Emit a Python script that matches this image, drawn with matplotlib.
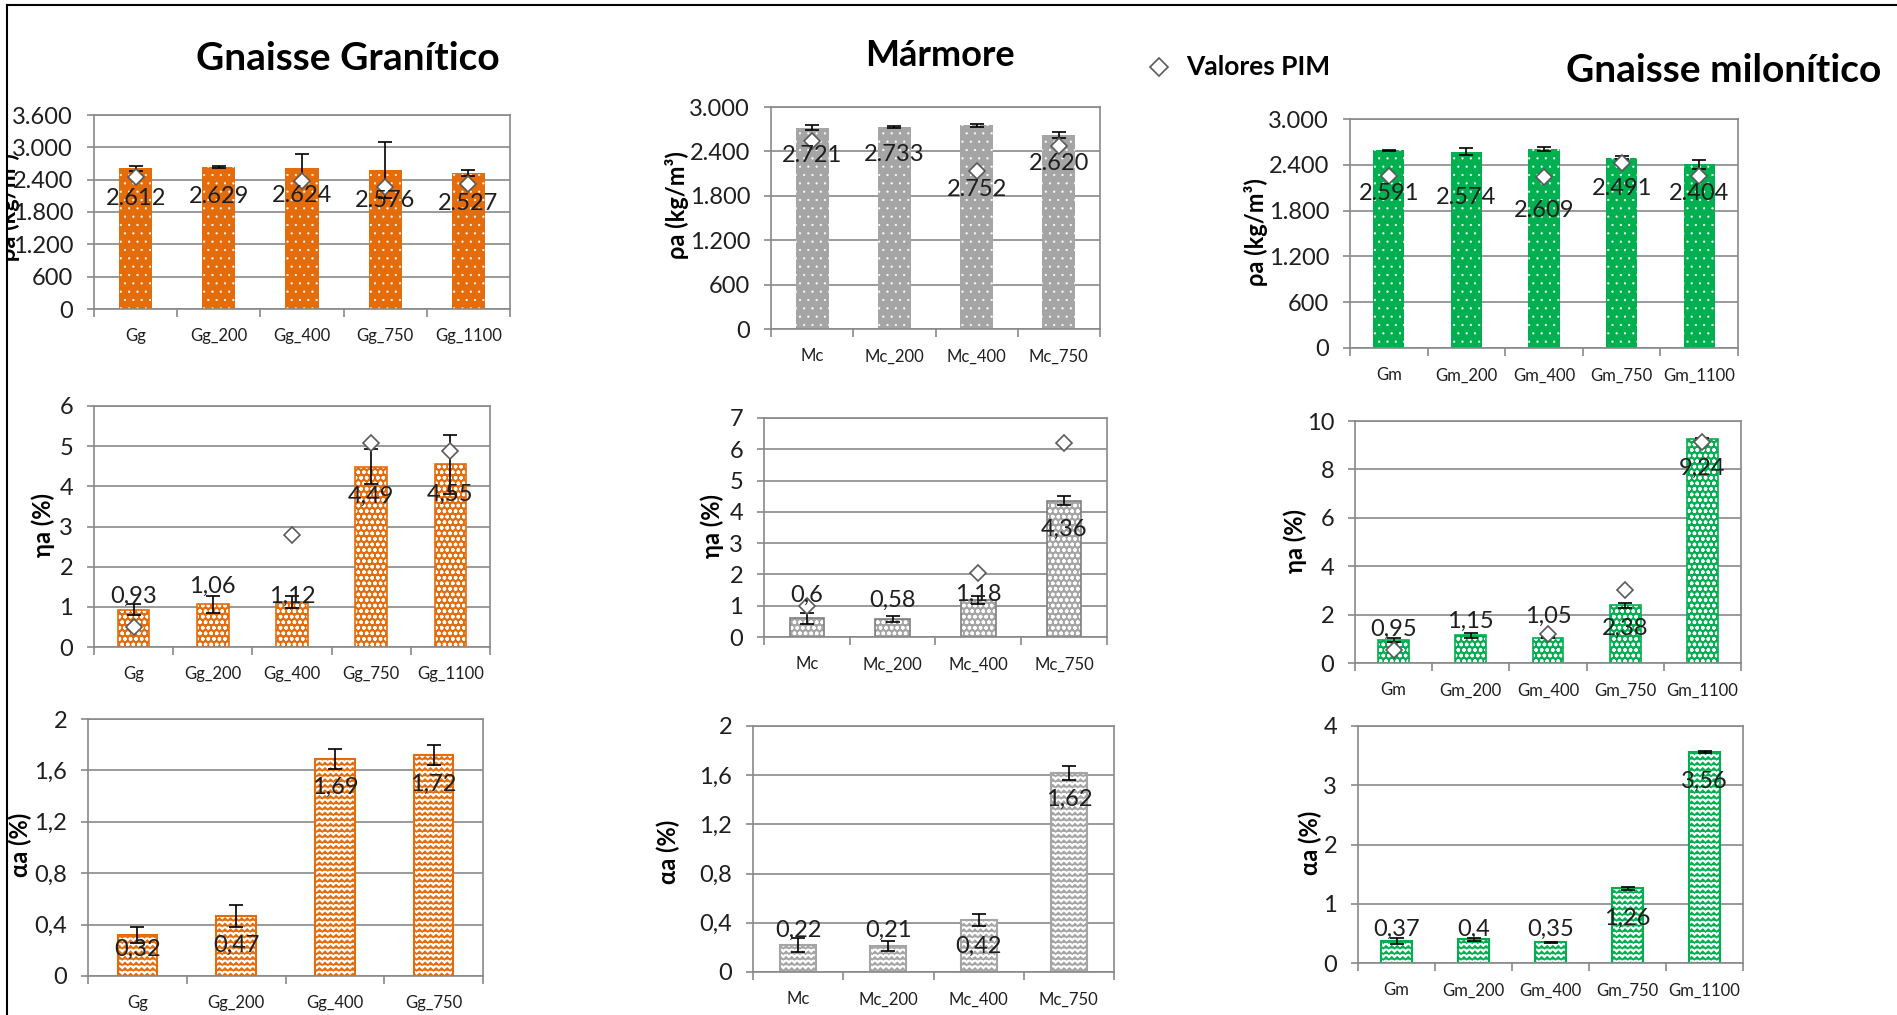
import warnings
warnings.filterwarnings("ignore")

import numpy as np
import matplotlib
matplotlib.use("Agg")
import matplotlib.pyplot as plt
import matplotlib.hatch as mhatch
from matplotlib.path import Path
from matplotlib.lines import Line2D
from matplotlib.ticker import FuncFormatter
from matplotlib.transforms import Bbox, TransformedBbox

plt.rcParams['font.family'] = ['Lato', 'DejaVu Sans']
plt.rcParams['hatch.linewidth'] = 1.0


# ---- custom zigzag hatch ('z') -------------------------------------------
class ZigZagHatch(mhatch.HatchPatternBase):
    def __init__(self, hatch, density):
        self.num_rows = hatch.count('z') * density
        self.num_points = 2 * self.num_rows + 1
        self.num_vertices = self.num_rows * self.num_points

    def set_vertices_and_codes(self, vertices, codes):
        n, m = self.num_rows, self.num_points
        xs = np.linspace(0.0, 1.0, m)
        amp = 0.24 / n
        sign = np.where(np.arange(m) % 2 == 0, -1.0, 1.0)
        for i in range(n):
            sl = slice(i * m, (i + 1) * m)
            vertices[sl, 0] = xs
            vertices[sl, 1] = (i + 0.5) / n + amp * sign
            codes[sl] = Path.LINETO
            codes[i * m] = Path.MOVETO


mhatch._hatch_types.append(ZigZagHatch)

# ---- data ------------------------------------------------------------------
gg_cats = ["Gg", "Gg_200", "Gg_400", "Gg_750", "Gg_1100"]
mc_cats = ["Mc", "Mc_200", "Mc_400", "Mc_750"]
gm_cats = ["Gm", "Gm_200", "Gm_400", "Gm_750", "Gm_1100"]
gg_alpha_cats = ["Gg", "Gg_200", "Gg_400", "Gg_750"]

# apparent density (kg/m3)
gg_rho = [2612, 2629, 2624, 2576, 2527]
gg_rho_err = [45, 20, 246, 516, 52]
gg_rho_pim = [2443, np.nan, 2381, 2270, 2313]

mc_rho = [2721, 2733, 2752, 2620]
mc_rho_err = [30, 15, 22, 40]
mc_rho_pim = [2535, np.nan, 2129, 2476]

gm_rho = [2591, 2574, 2609, 2491, 2404]
gm_rho_err = [5, 50, 25, 20, 60]
gm_rho_pim = [2259, np.nan, 2237, 2429, 2259]

# open porosity (%)
gg_eta = [0.93, 1.06, 1.12, 4.49, 4.55]
gg_eta_err = [0.14, 0.22, 0.16, 0.44, 0.74]
gg_eta_pim = [0.51, np.nan, 2.79, 5.07, 4.88]

mc_eta = [0.6, 0.58, 1.18, 4.36]
mc_eta_err = [0.17, 0.10, 0.12, 0.15]
mc_eta_pim = [0.99, np.nan, 2.03, 6.2]

gm_eta = [0.95, 1.15, 1.05, 2.38, 9.24]
gm_eta_err = [0.10, 0.10, 0.02, 0.12, 0.05]
gm_eta_pim = [0.55, np.nan, 1.21, 3.0, 9.12]

# water absorption (%)
gg_alpha = [0.32, 0.47, 1.69, 1.72]
gg_alpha_err = [0.06, 0.085, 0.08, 0.08]

mc_alpha = [0.22, 0.21, 0.42, 1.62]
mc_alpha_err = [0.06, 0.04, 0.05, 0.055]

gm_alpha = [0.37, 0.4, 0.35, 1.26, 3.56]
gm_alpha_err = [0.05, 0.03, 0.01, 0.03, 0.01]

# ---- layout ------------------------------------------------------------------
W, H = 1897, 1015
ORANGE = "#E46C0A"
GRAY = "#A5A5A5"
GREEN = "#00B050"
AXIS_GRAY = "#898989"
TEXT = "#1E1E1E"

fig = plt.figure(figsize=(W / 100, H / 100), dpi=100)
fig.patch.set_facecolor("white")


def fx(px):
    return px / W


def fy(py):
    return 1 - py / H


def fmt_rho(v):
    return f"{int(round(v)):,}".replace(",", ".")


def fmt_dec(v):
    return f"{v:g}".replace(".", ",")


def hatched_bars(ax, x, vals, hatch_lw, **kw):
    with plt.rc_context({"hatch.linewidth": hatch_lw}):
        bars = ax.bar(x, vals, width=0.4, **kw)
    for b in bars:
        if hasattr(b, "set_hatch_linewidth"):
            b.set_hatch_linewidth(hatch_lw)
    return bars


panels = [
    dict(rect=(94, 115, 510, 309), cats=gg_cats, vals=gg_rho, err=gg_rho_err, pim=gg_rho_pim,
         kind="rho", color=ORANGE, ymax=3600, step=600,
         ly=[2053, 2096, 2115, 2022, 1960], ylab=(8, 207)),
    dict(rect=(771, 107, 1100, 329), cats=mc_cats, vals=mc_rho, err=mc_rho_err, pim=mc_rho_pim,
         kind="rho", color=GRAY, ymax=3000, step=600,
         ly=[2345, 2354, 1881, 2242], ylab=(677, 205)),
    dict(rect=(1350, 119, 1738, 348), cats=gm_cats, vals=gm_rho, err=gm_rho_err, pim=gm_rho_pim,
         kind="rho", color=GREEN, ymax=3000, step=600,
         ly=[2019, 1976, 1801, 2093, 2028], ylab=(1256, 232)),
    dict(rect=(94, 406, 490, 647), cats=gg_cats, vals=gg_eta, err=gg_eta_err, pim=gg_eta_pim,
         kind="eta", color=ORANGE, ymax=6, step=1,
         ly=[1.26, 1.52, 1.26, 3.74, 3.80], ylab=(43, 525)),
    dict(rect=(764, 418, 1107, 637), cats=mc_cats, vals=mc_eta, err=mc_eta_err, pim=mc_eta_pim,
         kind="eta", color=GRAY, ymax=7, step=1,
         ly=[1.34, 1.18, 1.37, 3.44], ylab=(712, 526)),
    dict(rect=(1355, 421, 1741, 663), cats=gm_cats, vals=gm_eta, err=gm_eta_err, pim=gm_eta_pim,
         kind="eta", color=GREEN, ymax=10, step=2,
         ly=[1.38, 1.72, 1.93, 1.42, 8.04], ylab=(1295, 541)),
    dict(rect=(88, 719, 483, 976), cats=gg_alpha_cats, vals=gg_alpha, err=gg_alpha_err, pim=None,
         kind="alpha", color=ORANGE, ymax=2, step=0.4,
         ly=[0.21, 0.24, 1.47, 1.49], ylab=(20, 845)),
    dict(rect=(753, 726, 1114, 972), cats=mc_cats, vals=mc_alpha, err=mc_alpha_err, pim=None,
         kind="alpha", color=GRAY, ymax=2, step=0.4,
         ly=[0.34, 0.34, 0.21, 1.40], ylab=(668, 852)),
    dict(rect=(1358, 726, 1743, 963), cats=gm_cats, vals=gm_alpha, err=gm_alpha_err, pim=None,
         kind="alpha", color=GREEN, ymax=4, step=1,
         ly=[0.56, 0.56, 0.56, 0.76, 3.07], ylab=(1310, 843)),
]

ylabels = {"rho": "ρa (kg/m³)", "eta": "ηa (%)", "alpha": "αa (%)"}

for i, p in enumerate(panels):
    x0, y0, x1, y1 = p["rect"]
    ax = fig.add_axes([fx(x0), fy(y1), (x1 - x0) / W, (y1 - y0) / H])
    n = len(p["cats"])
    x = np.arange(n)
    col = p["color"]

    if p["kind"] == "rho":
        hatched_bars(ax, x, p["vals"], 0.35, color=col, edgecolor="white",
                     linewidth=0, hatch="..", zorder=2)
    elif p["kind"] == "eta":
        hatched_bars(ax, x, p["vals"], 1.0, color=col, edgecolor="white",
                     linewidth=0, hatch="ooo", zorder=2)
        edge = "#7F7F7F" if col == GRAY else col
        ax.bar(x, p["vals"], width=0.4, fill=False, edgecolor=edge,
               linewidth=1.2, zorder=2)
    else:
        hatched_bars(ax, x, p["vals"], 1.2, color="white", edgecolor=col,
                     linewidth=1.5, hatch="zzz", zorder=2)

    ax.errorbar(x, p["vals"], yerr=p["err"], fmt="none", ecolor="black",
                elinewidth=1.2, capsize=5, capthick=1.2, zorder=3)

    if p["pim"] is not None:
        ax.plot(x, p["pim"], linestyle="none", marker="D", markersize=8,
                markerfacecolor="white", markeredgecolor="#5A5A5A",
                markeredgewidth=1.2, zorder=4)

    fmt = fmt_rho if p["kind"] == "rho" else fmt_dec
    for xi, v, ly in zip(x, p["vals"], p["ly"]):
        ax.text(xi, ly, fmt(v), ha="center", va="center", fontsize=17,
                color=TEXT, zorder=5)

    ax.set_xlim(-0.5, n - 0.5)
    ax.set_ylim(0, p["ymax"])
    ax.set_yticks(np.arange(0, p["ymax"] + p["step"] / 2, p["step"]))
    ax.yaxis.set_major_formatter(FuncFormatter(
        (lambda v, pos: fmt_rho(v)) if p["kind"] == "rho" else (lambda v, pos: fmt_dec(round(v, 6)))))
    ax.set_xticks(x)
    ax.set_xticklabels(p["cats"])
    ax.set_xticks(np.arange(-0.5, n, 1.0), minor=True)

    ax.grid(axis="y", color=AXIS_GRAY, linewidth=1.2, zorder=0)
    ax.set_axisbelow(True)
    for s in ax.spines.values():
        s.set_color(AXIS_GRAY)
        s.set_linewidth(1.2)

    ax.tick_params(axis="y", which="major", direction="out", length=5,
                   color=AXIS_GRAY, width=1.2, labelsize=17, labelcolor=TEXT, pad=10)
    ax.tick_params(axis="x", which="major", length=0, labelsize=12,
                   labelcolor=TEXT, pad=14)
    ax.tick_params(axis="x", which="minor", direction="out", length=6,
                   color=AXIS_GRAY, width=1.2)

    lx, lyy = p["ylab"]
    t = fig.text(fx(lx), fy(lyy), ylabels[p["kind"]], rotation=90, ha="center",
                 va="center", fontsize=17, fontweight="bold", color="black")
    if i == 0:
        t.set_clip_box(TransformedBbox(Bbox.from_extents(fx(8), 0, 1, 1), fig.transFigure))
        t.set_clip_on(True)
        t.set_zorder(-1)

# ---- titles and legend ----------------------------------------------------------
fig.text(fx(348), fy(58), "Gnaisse Granítico", ha="center", va="center",
         fontsize=28, fontweight="bold", color="black")
fig.text(fx(940), fy(56), "Mármore", ha="center", va="center",
         fontsize=26, fontweight="bold", color="black")
fig.text(fx(1724), fy(70), "Gnaisse milonítico", ha="center", va="center",
         fontsize=28, fontweight="bold", color="black")

fig.add_artist(Line2D([fx(1159)], [fy(67)], marker="D", markersize=9,
                      markerfacecolor="white", markeredgecolor="#5A5A5A",
                      markeredgewidth=1.2, linestyle="none",
                      transform=fig.transFigure))
fig.text(fx(1186), fy(67), "Valores PIM", ha="left", va="center",
         fontsize=19, fontweight="bold", color="black")

# outer frame
fig.add_artist(Line2D([fx(7), fx(7)], [0, fy(5)], color="black", linewidth=1.5,
                      transform=fig.transFigure))
fig.add_artist(Line2D([fx(7), 1], [fy(5), fy(5)], color="black", linewidth=1.5,
                      transform=fig.transFigure))

fig.savefig("out.png", dpi=100, facecolor="white")
